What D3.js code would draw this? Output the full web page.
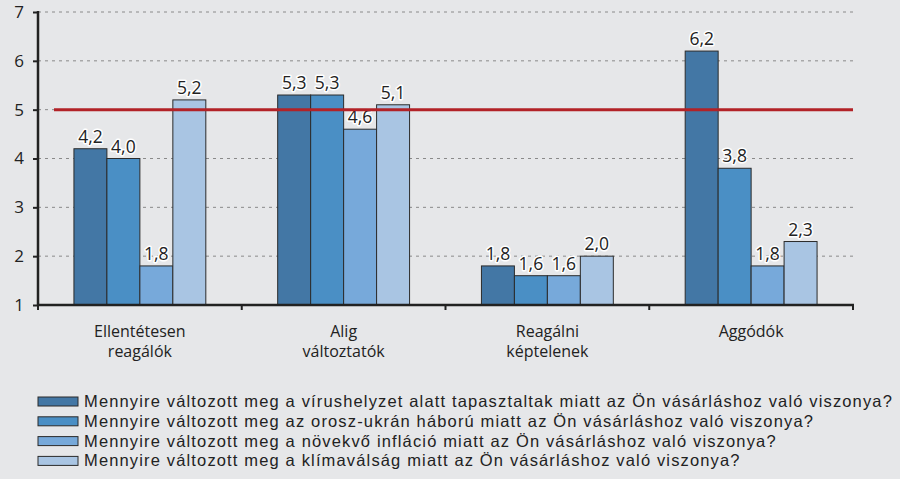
<!DOCTYPE html>
<html>
<head>
<meta charset="utf-8">
<script src="https://cdn.jsdelivr.net/npm/d3@7"></script>
<style>
  body { margin: 0; background: #e6e7e9; }
  svg { display: block; font-family: "Open Sans", sans-serif; }
</style>
</head>
<body>
<div id="chart"></div>
<script>
// kategóriák és sorozatok
const categories = [["Ellentétesen", "reagálók"], ["Alig", "változtatók"], ["Reagálni", "képtelenek"], ["Aggódók"]];
const seriesNames = [
  "Mennyire változott meg a vírushelyzet alatt tapasztaltak miatt az Ön vásárláshoz való viszonya?",
  "Mennyire változott meg az orosz-ukrán háború miatt az Ön vásárláshoz való viszonya?",
  "Mennyire változott meg a növekvő infláció miatt az Ön vásárláshoz való viszonya?",
  "Mennyire változott meg a klímaválság miatt az Ön vásárláshoz való viszonya?"
];
const virus = [4.2, 5.3, 1.8, 6.2];
const haboru = [4.0, 5.3, 1.6, 3.8];
const inflacio = [1.8, 4.6, 1.6, 1.8];
const klima = [5.2, 5.1, 2.0, 2.3];
const yTicks = [1, 2, 3, 4, 5, 6, 7];
const refValue = 5;

const colors = ["#4377a5", "#4a8fc5", "#77a9da", "#a9c5e3"];
const series = [virus, haboru, inflacio, klima];

const width = 900, height = 479;
const svg = d3.select("#chart").append("svg")
  .attr("width", width).attr("height", height);

svg.append("rect").attr("width", width).attr("height", height).attr("fill", "#e6e7e9");

const x0 = d3.scaleBand().domain(d3.range(categories.length)).range([38, 853]).paddingInner(0).paddingOuter(0);
const x1 = d3.scaleBand().domain(d3.range(series.length)).range([0, x0.bandwidth()]).paddingOuter(1.09).paddingInner(0);
const y = d3.scaleLinear().domain([1, 7]).range([305, 12]);

// rácsvonalak
svg.append("g").selectAll("line")
  .data(yTicks.slice(1))
  .enter().append("line")
  .attr("x1", 38).attr("x2", 853)
  .attr("y1", d => y(d)).attr("y2", d => y(d))
  .attr("stroke", "#8a8a8a").attr("stroke-width", 1)
  .attr("stroke-dasharray", "3,4");

// oszlopok
const groups = svg.append("g").selectAll("g")
  .data(categories)
  .enter().append("g")
  .attr("transform", (d, i) => "translate(" + x0(i) + ",0)");

groups.selectAll("rect")
  .data((d, i) => series.map((s, k) => ({ k: k, v: s[i] })))
  .enter().append("rect")
  .attr("x", d => x1(d.k))
  .attr("width", x1.bandwidth())
  .attr("y", d => y(d.v))
  .attr("height", d => y(1) - y(d.v))
  .attr("fill", d => colors[d.k])
  .attr("stroke", "#2b2b2b").attr("stroke-width", 1);

// értékcímkék fehér körvonallal
groups.selectAll("text")
  .data((d, i) => series.map((s, k) => ({ k: k, v: s[i] })))
  .enter().append("text")
  .attr("x", d => x1(d.k) + x1.bandwidth() / 2)
  .attr("y", d => y(d.v) - 6)
  .attr("text-anchor", "middle")
  .attr("font-size", "17.5px")
  .attr("fill", "#222")
  .attr("stroke", "#fff").attr("stroke-width", 3).attr("paint-order", "stroke")
  .attr("stroke-linejoin", "round")
  .text(d => d3.format(".1f")(d.v).replace(".", ","));

// referencia vonal
svg.append("line")
  .attr("x1", 54).attr("x2", 853)
  .attr("y1", y(refValue)).attr("y2", y(refValue))
  .attr("stroke", "#b22227").attr("stroke-width", 3);

// tengelyek
const yAxis = svg.append("g").attr("transform", "translate(38,0)")
  .call(d3.axisLeft(y).tickValues(yTicks).tickSize(5).tickFormat(d3.format("d")));
yAxis.select(".domain").attr("stroke", "#222").attr("stroke-width", 2.5).attr("d", "M0," + (y(7) - 1) + "V" + y(1));
yAxis.selectAll(".tick line").attr("stroke", "#222").attr("stroke-width", 2);
yAxis.selectAll(".tick text").attr("font-size", "17px").attr("fill", "#222").attr("x", -14)
  .style("font-family", "'Open Sans', sans-serif");

const xAxis = svg.append("g").attr("transform", "translate(0," + y(1) + ")");
xAxis.append("line").attr("x1", 37).attr("x2", 854).attr("stroke", "#222").attr("stroke-width", 2.5);
xAxis.selectAll("line.tk")
  .data(d3.range(categories.length + 1))
  .enter().append("line").attr("class", "tk")
  .attr("x1", i => 38 + i * x0.step()).attr("x2", i => 38 + i * x0.step())
  .attr("y1", 0).attr("y2", 5)
  .attr("stroke", "#222").attr("stroke-width", 2);

xAxis.selectAll("text")
  .data(categories)
  .enter().append("text")
  .attr("text-anchor", "middle")
  .attr("font-size", "16px").attr("fill", "#222")
  .attr("transform", (d, i) => "translate(" + (x0(i) + x0.bandwidth() / 2) + ",32)")
  .each(function(d) {
    d3.select(this).selectAll("tspan").data(d).enter().append("tspan")
      .attr("x", 0).attr("dy", (t, j) => j === 0 ? 0 : 20).text(t => t);
  });

// jelmagyarázat
const legend = svg.append("g").selectAll("g")
  .data(seriesNames)
  .enter().append("g")
  .attr("transform", (d, i) => "translate(38," + (401 + i * 19.8) + ")");
legend.append("rect")
  .attr("x", 0).attr("y", -4).attr("width", 40).attr("height", 9)
  .attr("fill", (d, i) => colors[i]).attr("stroke", "#2b2b2b").attr("stroke-width", 1);
const legText = legend.append("text")
  .attr("x", 46).attr("y", 6)
  .attr("font-size", "16.5px").attr("fill", "#222")
  .style("font-family", "'Liberation Sans', Arial, sans-serif")
  .text(d => d);
// az első sor szélessége kb. 809px az eredetin
const firstLen = legText.node().getComputedTextLength();
const ls = (809 - firstLen) / seriesNames[0].length;
legText.attr("letter-spacing", ls + "px");
</script>
</body>
</html>
